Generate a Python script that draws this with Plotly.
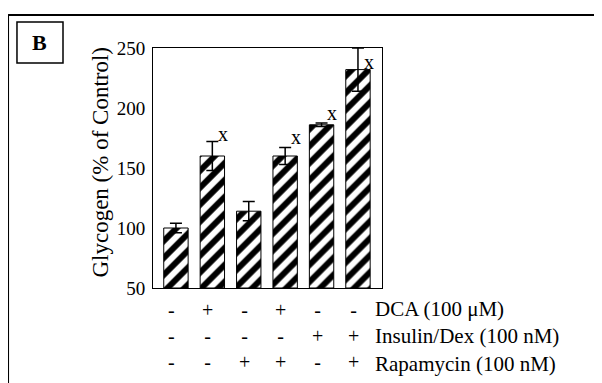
import plotly.graph_objects as go

# ---- data ----
conditions = ["1", "2", "3", "4", "5", "6"]
glycogen = [100, 160, 114, 160, 186, 232]
errors = [4, 12, 8, 7, 1.5, 18]
sig_marks = ["", "x", "", "x", "x", "x"]
sig_label_y = [None, 178, None, 176, 196, 238]
dca = ["-", "+", "-", "+", "-", "-"]
insulin = ["-", "-", "-", "-", "+", "+"]
rapamycin = ["-", "-", "+", "+", "-", "+"]
row_labels = ["DCA (100 \u03bcM)", "Insulin/Dex (100 nM)", "Rapamycin (100 nM)"]
y_ticks = [50, 100, 150, 200, 250]

FONT = "Liberation Serif, Times New Roman, serif"
xs = list(range(len(conditions)))

fig = go.Figure()
fig.add_trace(go.Bar(
    x=xs, y=[v - 50 for v in glycogen], base=50,
    width=0.67,
    marker=dict(color="white",
                line=dict(color="black", width=1),
                pattern=dict(shape="/", fgcolor="black", bgcolor="white", fgopacity=1,
                             size=12, solidity=0.5)),
    error_y=dict(type="data", array=errors, color="black",
                 thickness=1.5, width=6, visible=True),
    showlegend=False,
))

annotations = []
for i, (m, yy) in enumerate(zip(sig_marks, sig_label_y)):
    if m:
        annotations.append(dict(x=i + 0.3, y=yy, xref="x", yref="y", text=m,
                                xanchor="center", yanchor="middle",
                                showarrow=False, font=dict(family=FONT, size=20, color="black")))

# treatment table: one multi-line annotation per column, plus one for the row labels
TABLE_Y = -0.2
TABLE_FONT = 20
for i in xs:
    col = "<br>".join([dca[i], insulin[i], rapamycin[i]])
    annotations.append(dict(x=i - 0.12, y=TABLE_Y, xref="x", yref="paper", text=col,
                            xanchor="center", yanchor="middle", align="center",
                            showarrow=False, font=dict(family=FONT, size=TABLE_FONT, color="black")))
annotations.append(dict(x=0.962, y=TABLE_Y, xref="paper", yref="paper",
                        text="<br>".join(row_labels),
                        xanchor="left", yanchor="middle", align="left", showarrow=False,
                        font=dict(family=FONT, size=TABLE_FONT + 1, color="black")))

# y-axis title
annotations.append(dict(x=-0.231, y=0.523, xref="paper", yref="paper",
                        text="Glycogen (% of Control)", textangle=-90,
                        xanchor="center", yanchor="middle",
                        showarrow=False, font=dict(family=FONT, size=23, color="black")))
# panel label
annotations.append(dict(x=-0.494, y=1.022, xref="paper", yref="paper", text="<b>B</b>",
                        xanchor="center", yanchor="middle",
                        showarrow=False, font=dict(family=FONT, size=22, color="black")))

shapes = [
    dict(type="line", xref="paper", yref="paper", x0=-0.633, x1=-0.633, y0=1.1375, y1=-0.45,
         line=dict(color="black", width=2)),
    dict(type="line", xref="paper", yref="paper", x0=-0.633, x1=2.0, y0=1.1375, y1=1.1375,
         line=dict(color="black", width=2)),
    dict(type="rect", xref="paper", yref="paper", x0=-0.594, x1=-0.393, y0=0.9375, y1=1.108,
         line=dict(color="black", width=1.5)),
]

fig.update_layout(
    width=602, height=383,
    margin=dict(l=145, r=228, t=40, b=103),
    paper_bgcolor="white", plot_bgcolor="white",
    annotations=annotations,
    shapes=shapes,
    xaxis=dict(range=[-0.63, 5.66], showticklabels=False, ticks="", showgrid=False,
               zeroline=False, showline=True, linecolor="black", linewidth=1, mirror=True),
    yaxis=dict(range=[50, 250], tickvals=y_ticks, ticks="", showgrid=False, zeroline=False,
               showline=True, linecolor="black", linewidth=1, mirror=True,
               ticklabelstandoff=3, automargin=False,
               tickfont=dict(family=FONT, size=19, color="black")),
)

fig.write_html("out.html")
